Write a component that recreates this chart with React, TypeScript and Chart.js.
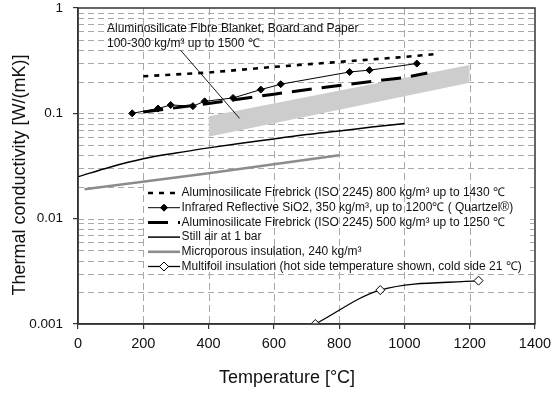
import React, { useEffect, useRef } from "react";
import { Chart, registerables } from "chart.js";

Chart.register(...registerables);

const FONT = '"Liberation Sans", Arial, Helvetica, sans-serif';

// Temperature axis (°C)
const X_TICKS = [0, 200, 400, 600, 800, 1000, 1200, 1400];
// Conductivity axis (W/(mK)), log scale decades
const Y_TICKS = [0.001, 0.01, 0.1, 1];
const Y_TICK_LABELS = ["0.001", "0.01", "0.1", "1"];

// Aluminosilicate Firebrick (ISO 2245) 800 kg/m³
const firebrick800Temps = [200, 400, 600, 800, 1000, 1100];
const firebrick800K = [0.225, 0.244, 0.276, 0.308, 0.343, 0.366];

// Infrared reflective SiO2 (Quartzel)
const quartzelTemps = [166, 245, 284, 352, 388, 475, 560, 621, 832, 893, 1038];
const quartzelK = [0.1, 0.111, 0.12, 0.117, 0.13, 0.14, 0.168, 0.189, 0.247, 0.257, 0.297];

// Aluminosilicate Firebrick (ISO 2245) 500 kg/m³
const firebrick500Temps = [200, 400, 600, 800, 1000, 1070];
const firebrick500K = [0.103, 0.124, 0.152, 0.184, 0.219, 0.242];

// Still air at 1 bar
const airTemps = [0, 100, 200, 300, 400, 500, 600, 700, 800, 900, 1000];
const airK = [0.025, 0.031, 0.037, 0.042, 0.047, 0.052, 0.057, 0.063, 0.068, 0.074, 0.08];

// Microporous insulation, 240 kg/m³
const microTemps = [20, 400, 800];
const microK = [0.019, 0.027, 0.04];

// Multifoil insulation (hot side temperature)
const multifoilTemps = [727, 926, 1227];
const multifoilK = [0.001, 0.0021, 0.00258];

// Aluminosilicate fibre blanket band (lower / upper bound)
const blanketTemps = [400, 1200];
const blanketLowK = [0.06, 0.195];
const blanketHighK = [0.094, 0.288];

// Callout pointer from the blanket label into the band
const pointerTemps = [314, 495];
const pointerK = [0.398, 0.0895];

const LEGEND_LABELS = [
  "Aluminosilicate Firebrick (ISO 2245) 800 kg/m³ up to 1430 ℃",
  "Infrared Reflective SiO2, 350 kg/m³, up to 1200℃ ( Quartzel®)",
  "Aluminosilicate Firebrick (ISO 2245) 500 kg/m³ up to 1250 ℃",
  "Still air at 1 bar",
  "Microporous insulation, 240 kg/m³",
  "Multifoil insulation (hot side temperature shown, cold side 21 ℃)",
];

const BLANKET_LINES = [
  "Aluminosilicate Fibre Blanket, Board and Paper",
  "100-300 kg/m³ up to 1500 ℃",
];

const pts = (xs: number[], ys: number[]) => xs.map((x, i) => ({ x, y: ys[i] }));

function minorLogValues(): number[] {
  const out: number[] = [];
  for (const d of [0.001, 0.01, 0.1]) {
    for (let m = 1; m <= 9; m++) {
      const v = +(m * d).toPrecision(3);
      if (v > 0.001 && v < 1) out.push(v);
    }
  }
  return out;
}

const LEGEND_BOX = { left: 145, top: 180, right: 530, bottom: 271 };

function drawDiamond(ctx: CanvasRenderingContext2D, x: number, y: number, r: number, fill: string) {
  ctx.beginPath();
  ctx.moveTo(x, y - r);
  ctx.lineTo(x + r, y);
  ctx.lineTo(x, y + r);
  ctx.lineTo(x - r, y);
  ctx.closePath();
  ctx.fillStyle = fill;
  ctx.fill();
  ctx.lineWidth = 1;
  ctx.setLineDash([]);
  ctx.strokeStyle = "#000";
  ctx.stroke();
}

const chartDecor = {
  id: "chartDecor",
  beforeDatasetsDraw(chart: any) {
    const { ctx, chartArea: a, scales } = chart;
    const x = scales.x;
    const y = scales.y;
    ctx.save();
    ctx.strokeStyle = "#a8a8a8";
    ctx.lineWidth = 1;
    ctx.setLineDash([6, 4]);
    for (const v of minorLogValues()) {
      const py = Math.round(y.getPixelForValue(v)) + 0.5;
      ctx.beginPath();
      ctx.moveTo(a.left, py);
      ctx.lineTo(a.right, py);
      ctx.stroke();
    }
    // legend background hides the horizontal grid
    ctx.fillStyle = "#ffffff";
    ctx.fillRect(
      LEGEND_BOX.left,
      LEGEND_BOX.top,
      LEGEND_BOX.right - LEGEND_BOX.left,
      LEGEND_BOX.bottom - LEGEND_BOX.top
    );
    ctx.setLineDash([7, 4]);
    for (const v of X_TICKS) {
      if (v <= x.min || v >= x.max) continue;
      const px = Math.round(x.getPixelForValue(v)) + 0.5;
      ctx.beginPath();
      ctx.moveTo(px, a.top);
      ctx.lineTo(px, a.bottom);
      ctx.stroke();
    }
    ctx.restore();
  },
  afterDatasetsDraw(chart: any) {
    const { ctx, chartArea: a } = chart;
    ctx.save();
    // plot frame
    ctx.setLineDash([]);
    ctx.strokeStyle = "#333";
    ctx.lineWidth = 1.5;
    ctx.strokeRect(a.left, a.top, a.right - a.left, a.bottom - a.top);

    // legend
    const rowY0 = 193;
    const rowStep = 14.7;
    const sx0 = 148;
    const sx1 = 180;
    ctx.font = `12px ${FONT}`;
    ctx.textBaseline = "middle";
    ctx.textAlign = "left";
    LEGEND_LABELS.forEach((label, i) => {
      const ds = chart.data.datasets[i];
      const ry = rowY0 + i * rowStep;
      ctx.beginPath();
      ctx.strokeStyle = ds.borderColor;
      ctx.lineWidth = ds.borderWidth;
      ctx.setLineDash(ds.borderDash || []);
      ctx.moveTo(sx0, ry);
      ctx.lineTo(sx1, ry);
      ctx.stroke();
      if (ds.pointRadius > 0) {
        drawDiamond(ctx, (sx0 + sx1) / 2, ry, ds.pointRadius, ds.pointBackgroundColor);
      }
      ctx.fillStyle = "#111";
      ctx.fillText(label, sx1 + 1.5, ry);
    });

    // blanket callout text
    ctx.fillStyle = "#111";
    ctx.font = `12px ${FONT}`;
    ctx.fillText(BLANKET_LINES[0], a.left + 29, 28.5);
    ctx.fillText(BLANKET_LINES[1], a.left + 29, 43.5);
    ctx.restore();
  },
  afterDraw(chart: any) {
    const { ctx } = chart;
    ctx.save();
    ctx.fillStyle = "#111";
    ctx.textAlign = "center";
    ctx.textBaseline = "middle";
    ctx.font = `18px ${FONT}`;
    ctx.fillText("Temperature [°C]", 287, 378);
    ctx.translate(20, 175);
    ctx.rotate(-Math.PI / 2);
    ctx.font = `18px ${FONT}`;
    ctx.fillText("Thermal conductivity [W/(mK)]", 0, 0);
    ctx.restore();
  },
};

export default function App() {
  const canvasRef = useRef<HTMLCanvasElement | null>(null);

  useEffect(() => {
    if (!canvasRef.current) return;
    const chart = new Chart(canvasRef.current, {
      type: "line",
      data: {
        datasets: [
          {
            label: LEGEND_LABELS[0],
            data: pts(firebrick800Temps, firebrick800K),
            borderColor: "#000",
            borderWidth: 2.6,
            borderDash: [5, 6],
            pointRadius: 0,
            fill: false,
          },
          {
            label: LEGEND_LABELS[1],
            data: pts(quartzelTemps, quartzelK),
            borderColor: "#000",
            borderWidth: 1,
            pointStyle: "rectRot",
            pointRadius: 3.5,
            pointBackgroundColor: "#000",
            pointBorderColor: "#000",
            fill: false,
          },
          {
            label: LEGEND_LABELS[2],
            data: pts(firebrick500Temps, firebrick500K),
            borderColor: "#000",
            borderWidth: 3,
            borderDash: [20, 10],
            pointRadius: 0,
            fill: false,
          },
          {
            label: LEGEND_LABELS[3],
            data: pts(airTemps, airK),
            borderColor: "#000",
            borderWidth: 1.5,
            pointRadius: 0,
            cubicInterpolationMode: "monotone",
            fill: false,
          },
          {
            label: LEGEND_LABELS[4],
            data: pts(microTemps, microK),
            borderColor: "#8c8c8c",
            borderWidth: 2.6,
            pointRadius: 0,
            fill: false,
          },
          {
            label: LEGEND_LABELS[5],
            data: pts(multifoilTemps, multifoilK),
            borderColor: "#000",
            borderWidth: 1.3,
            pointStyle: "rectRot",
            pointRadius: 4.5,
            pointBackgroundColor: "#fff",
            pointBorderColor: "#000",
            pointBorderWidth: 1,
            cubicInterpolationMode: "monotone",
            fill: false,
          },
          {
            label: "pointer",
            data: pts(pointerTemps, pointerK),
            borderColor: "#000",
            borderWidth: 0.9,
            pointRadius: 0,
            fill: false,
          },
          {
            label: "blanket-low",
            data: pts(blanketTemps, blanketLowK),
            borderWidth: 0,
            borderColor: "rgba(0,0,0,0)",
            pointRadius: 0,
            fill: false,
          },
          {
            label: "blanket-high",
            data: pts(blanketTemps, blanketHighK),
            borderWidth: 0,
            borderColor: "rgba(0,0,0,0)",
            backgroundColor: "#cdcdcd",
            pointRadius: 0,
            fill: "-1",
          },
        ],
      },
      options: {
        responsive: false,
        animation: false,
        layout: { padding: { left: 0, right: 24, top: 8, bottom: 0 } },
        plugins: {
          legend: { display: false },
          tooltip: { enabled: false },
          title: { display: false },
        },
        scales: {
          x: {
            type: "linear",
            min: 0,
            max: 1400,
            afterBuildTicks: (s: any) => {
              s.ticks = X_TICKS.map((v) => ({ value: v }));
            },
            afterFit: (s: any) => {
              s.height = 72;
            },
            ticks: {
              font: { family: FONT, size: 14.5 },
              color: "#111",
              padding: 6,
              maxRotation: 0,
              autoSkip: false,
              callback: (_v: any, i: number) => String(X_TICKS[i]),
            },
            grid: {
              drawOnChartArea: false,
              drawTicks: true,
              tickLength: 5,
              color: "#333",
              lineWidth: 1.2,
            },
            border: { display: true, color: "#333", width: 1.5 },
          },
          y: {
            type: "logarithmic",
            min: 0.001,
            max: 1,
            afterBuildTicks: (s: any) => {
              s.ticks = Y_TICKS.map((v) => ({ value: v, major: true }));
            },
            afterFit: (s: any) => {
              s.width = 78;
              s.paddingTop = 8;
              s.paddingBottom = 0;
            },
            ticks: {
              font: { family: FONT, size: 13.5 },
              color: "#111",
              padding: 10,
              autoSkip: false,
              callback: (_v: any, i: number) => Y_TICK_LABELS[i],
            },
            grid: {
              drawOnChartArea: false,
              drawTicks: true,
              tickLength: 5,
              color: "#333",
              lineWidth: 1.2,
            },
            border: { display: true, color: "#333", width: 1.5 },
          },
        },
      },
      plugins: [chartDecor],
    } as any);
    return () => chart.destroy();
  }, []);

  return (
    <div style={{ position: "fixed", left: 0, top: 0, width: 559, height: 396, background: "#fff" }}>
      <canvas ref={canvasRef} width={559} height={396} />
    </div>
  );
}
